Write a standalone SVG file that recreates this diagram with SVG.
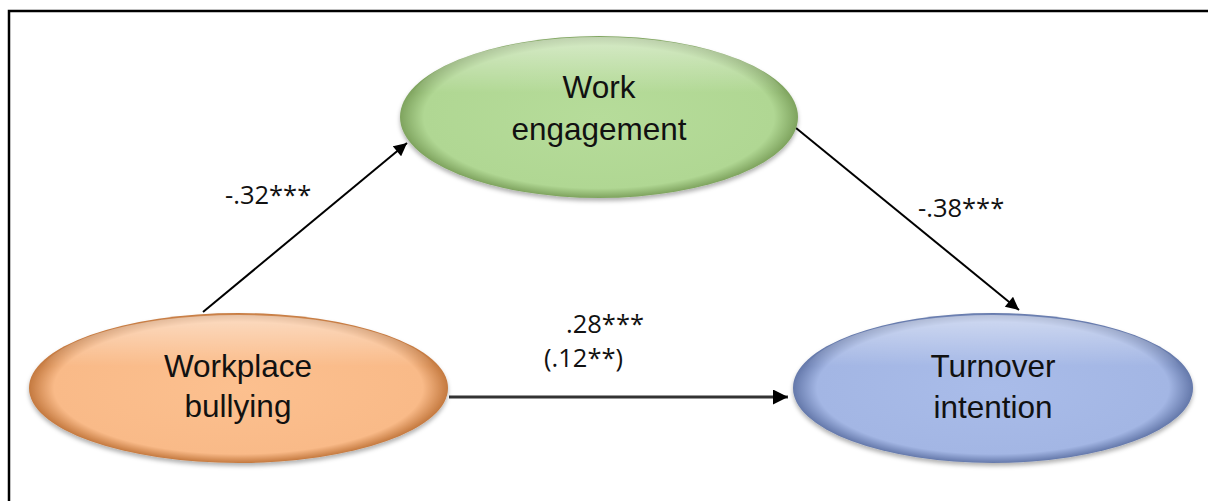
<svg xmlns="http://www.w3.org/2000/svg" width="1208" height="501" viewBox="0 0 1208 501">
<style>
.lbl{font-family:"Liberation Sans",Arial,sans-serif;font-size:31.5px;fill:#111;text-anchor:middle}
.coef{font-family:"Open Sans","Liberation Sans",sans-serif;font-size:25.5px;fill:#111}
.conn{stroke:#000;stroke-width:2;fill:none}
</style>
<defs>
<radialGradient id="gG" cx="0.5" cy="0.5" r="0.5">
<stop offset="0" stop-color="#b6dc9a"/><stop offset="0.88" stop-color="#b0d793"/><stop offset="1" stop-color="#7ea35e"/>
</radialGradient>
<radialGradient id="gO" cx="0.5" cy="0.5" r="0.5">
<stop offset="0" stop-color="#fcc08f"/><stop offset="0.88" stop-color="#f9ba88"/><stop offset="1" stop-color="#c4793f"/>
</radialGradient>
<radialGradient id="gB" cx="0.5" cy="0.5" r="0.5">
<stop offset="0" stop-color="#a9bce9"/><stop offset="0.88" stop-color="#a3b6e4"/><stop offset="1" stop-color="#6478aa"/>
</radialGradient>
<linearGradient id="hl" x1="0" y1="0" x2="0" y2="1">
<stop offset="0" stop-color="#fff" stop-opacity="0.5"/><stop offset="0.4" stop-color="#fff" stop-opacity="0"/>
</linearGradient>
<filter id="sh" x="-10%" y="-10%" width="120%" height="130%">
<feDropShadow dx="0" dy="3" stdDeviation="2" flood-color="#000" flood-opacity="0.3"/>
</filter>
<marker id="ah2" viewBox="0 0 10 10" refX="10" refY="5" markerWidth="7" markerHeight="6.5" orient="auto">
<path d="M0,0 L10,5 L0,10 z" fill="#000"/>
</marker>
<marker id="ah3" viewBox="0 0 10 10" refX="10" refY="5" markerWidth="5" markerHeight="5" orient="auto">
<path d="M0,0 L10,5 L0,10 z" fill="#000"/>
</marker>
</defs>
<rect width="1208" height="501" fill="#fff"/>
<path d="M9,501 V11 H1208" stroke="#000" stroke-width="2.5" fill="none"/>
<g id="connectors">
<line class="conn" x1="203" y1="312" x2="407" y2="143" marker-end="url(#ah2)"/>
<line class="conn" x1="796" y1="128" x2="1019" y2="310" marker-end="url(#ah2)"/>
<line x1="449" y1="397" x2="788" y2="397" stroke="#333" stroke-width="3" marker-end="url(#ah3)"/>
</g>
<g id="work-engagement">
<ellipse cx="599" cy="117" rx="199" ry="81" fill="url(#gG)" filter="url(#sh)"/>
<ellipse cx="599" cy="107" rx="190" ry="70" fill="url(#hl)"/>
<text class="lbl" x="599" y="98">Work</text>
<text class="lbl" x="599" y="140">engagement</text>
</g>
<g id="workplace-bullying">
<ellipse cx="238.5" cy="388" rx="209.5" ry="75" fill="url(#gO)" filter="url(#sh)"/>
<ellipse cx="238.5" cy="379" rx="200" ry="64" fill="url(#hl)"/>
<text class="lbl" x="238" y="377">Workplace</text>
<text class="lbl" x="238" y="417">bullying</text>
</g>
<g id="turnover-intention">
<ellipse cx="993" cy="388" rx="200" ry="75" fill="url(#gB)" filter="url(#sh)"/>
<ellipse cx="993" cy="379" rx="191" ry="64" fill="url(#hl)"/>
<text class="lbl" x="993" y="377">Turnover</text>
<text class="lbl" x="993" y="418">intention</text>
</g>
<g id="labels">
<text class="coef" x="225" y="204">-.32***</text>
<text class="coef" x="918" y="217">-.38***</text>
<text class="coef" x="566" y="333">.28***</text>
<text class="coef" x="544" y="367">(.12**)</text>
</g>
</svg>
